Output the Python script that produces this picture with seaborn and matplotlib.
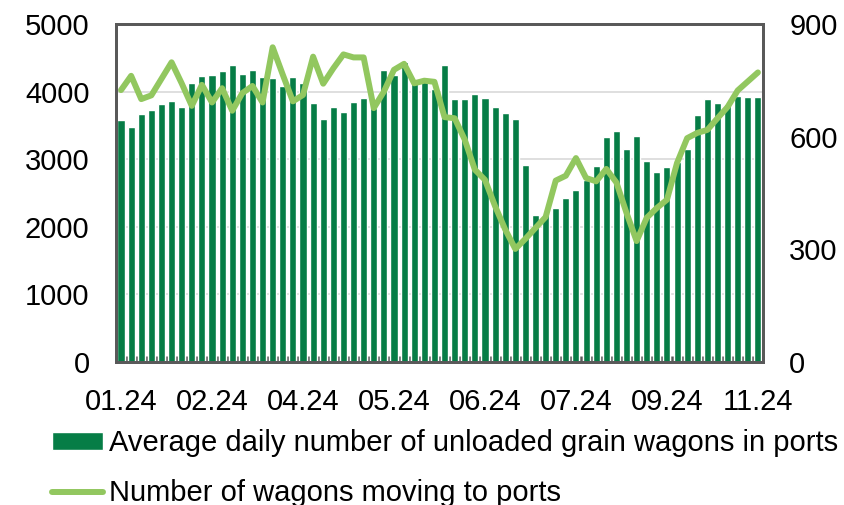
import numpy as np
import pandas as pd
import matplotlib
matplotlib.use("Agg")
import matplotlib.pyplot as plt
from matplotlib.ticker import FixedLocator
import seaborn as sns

# =========================
# DATA
# =========================
unloaded = [3580, 3476, 3675, 3723, 3812, 3856, 3772, 4133, 4231, 4241,
            4310, 4399, 4256, 4320, 4212, 4197, 4083, 4222, 4133, 3827,
            3590, 3768, 3694, 3852, 3911, 3757, 4325, 4251, 4444, 4182,
            4197, 4034, 4393, 3891, 3884, 3964, 3905, 3778, 3689, 3590,
            2920, 2170, 2190, 2273, 2432, 2550, 2698, 2895, 3334, 3423,
            3146, 3343, 2969, 2811, 2890, 2964, 3146, 3660, 3886, 3837,
            3822, 3941, 3926, 3920]
moving = [724, 762, 700, 710, 754, 798, 742, 682, 738, 691,
          729, 669, 716, 735, 691, 838, 765, 694, 711, 813,
          741, 782, 819, 811, 811, 676, 720, 778, 794, 742,
          749, 746, 652, 649, 592, 512, 485, 415, 353, 301,
          328, 357, 386, 483, 496, 543, 490, 481, 514, 478,
          397, 322, 384, 410, 432, 530, 596, 610, 618, 649,
          679, 723, 747, 771]
tick_pos = [0, 9, 18, 27, 36, 45, 54, 63]
tick_labels = ["01.24", "02.24", "04.24", "05.24", "06.24", "07.24", "09.24", "11.24"]

bar_label = "Average daily number of unloaded grain wagons in ports"
line_label = "Number of wagons moving to ports"

BAR_COLOR = "#067D46"
LINE_COLOR = "#92C75F"
FRAME = "#595959"
FS = 21

df = pd.DataFrame({"idx": np.arange(len(unloaded)),
                   "unloaded": unloaded,
                   "moving": moving})

sns.set_style("white")
plt.rcParams["font.family"] = ["Liberation Sans", "DejaVu Sans"]
plt.rcParams["text.color"] = "black"
plt.rcParams["xtick.color"] = "black"
plt.rcParams["ytick.color"] = "black"

fig = plt.figure(figsize=(8.44, 5.05), dpi=100)
ax = fig.add_axes([0.1374, 0.2832, 0.7666, 0.6693])

sns.barplot(data=df, x="idx", y="unloaded", color=BAR_COLOR, width=0.7,
            saturation=1, ax=ax, label=bar_label, zorder=2)
ax.set_xlim(-0.5, len(unloaded) - 0.5)
ax.set_ylim(0, 5000)
ax.set_yticks(np.arange(0, 5001, 1000))
ax.yaxis.grid(True, color="#D9D9D9", linewidth=1.2, zorder=0)
ax.set_axisbelow(True)
ax.set_xlabel("")
ax.set_ylabel("")
ax.set_xticks(tick_pos)
ax.set_xticklabels(tick_labels)
ax.xaxis.set_minor_locator(FixedLocator(np.arange(-0.5, len(unloaded), 1)))
ax.tick_params(axis="x", which="major", length=0, pad=19, labelsize=FS)
ax.tick_params(axis="x", which="minor", direction="in", length=4.5,
               width=2, color=FRAME, bottom=True)
ax.tick_params(axis="y", length=0, pad=19, labelsize=FS)

ax2 = ax.twinx()
sns.lineplot(data=df, x="idx", y="moving", color=LINE_COLOR, linewidth=4.3,
             ax=ax2, label=line_label, zorder=3)
ax2.set_ylim(0, 900)
ax2.set_yticks([0, 300, 600, 900])
ax2.set_ylabel("")
ax2.tick_params(axis="y", length=0, pad=19, labelsize=FS)
ax2.get_legend().remove()

for a in (ax, ax2):
    for s in a.spines.values():
        s.set_color(FRAME)
        s.set_linewidth(2)
        s.set_visible(True)

h1, l1 = ax.get_legend_handles_labels()
h2, l2 = ax2.get_legend_handles_labels()
if ax.get_legend() is not None:
    ax.get_legend().remove()
fig.legend(h1 + h2, l1 + l2, loc="upper left", bbox_to_anchor=(0.062, 0.15),
           frameon=False, fontsize=FS, handlelength=1.75, handleheight=0.55,
           handletextpad=0.2, labelspacing=0.75, borderaxespad=0,
           borderpad=0)

fig.savefig("out.png", dpi=100)
